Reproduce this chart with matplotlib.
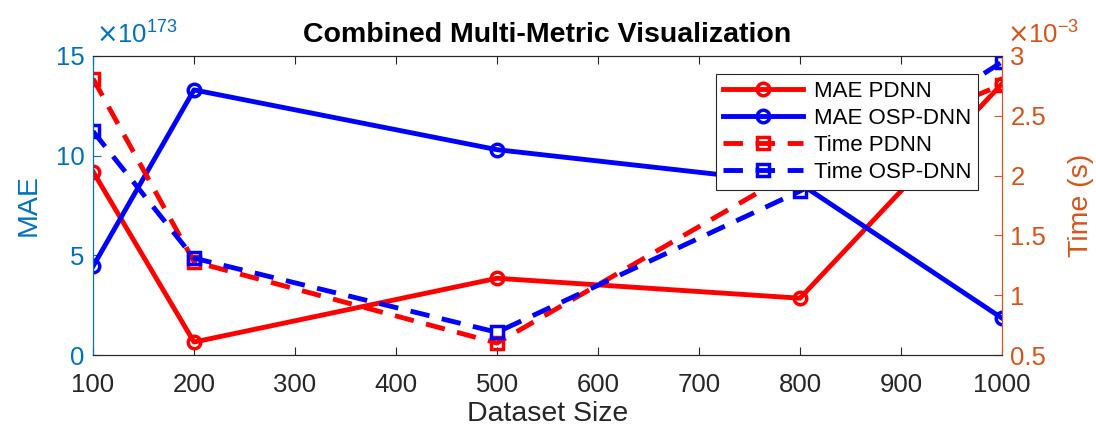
import matplotlib
matplotlib.use("Agg")
import matplotlib.pyplot as plt
from matplotlib.ticker import FuncFormatter, MultipleLocator

plt.rcParams["font.family"] = ["Liberation Sans", "DejaVu Sans"]
plt.rcParams["axes.unicode_minus"] = False

# dataset sizes and measured metrics
sizes = [100, 200, 500, 800, 1000]
mae_pdnn = [9.2e173, 0.65e173, 3.85e173, 2.85e173, 13.6e173]
mae_osp = [4.45e173, 13.3e173, 10.3e173, 8.6e173, 1.85e173]
time_pdnn = [2.81e-3, 1.28e-3, 0.60e-3, 2.06e-3, 2.76e-3]
time_osp = [2.37e-3, 1.31e-3, 0.69e-3, 1.87e-3, 2.95e-3]

mae_scale = 1e173
time_scale = 1e-3

LEFT_C = "#0072BD"
RIGHT_C = "#D95319"
AX_C = "#262626"
FS = 18.5
LFS = 20.5

fig = plt.figure(figsize=(10.96, 4.34), dpi=100)
ax = fig.add_axes([0.0849, 0.182, 0.8293, 0.689])
ax2 = ax.twinx()

lw, ms, mew = 3.5, 9, 2.5
dash = (4.0, 2.6)

h1, = ax.plot(sizes, mae_pdnn, "-o", color="red", lw=lw, ms=ms, mew=mew,
              mfc="none", label="MAE PDNN")
h2, = ax.plot(sizes, mae_osp, "-o", color="blue", lw=lw, ms=ms, mew=mew,
              mfc="none", label="MAE OSP-DNN")
h3, = ax2.plot(sizes, time_pdnn, "--s", color="red", lw=lw, ms=ms, mew=mew,
               mfc="none", dashes=dash, label="Time PDNN")
h4, = ax2.plot(sizes, time_osp, "--s", color="blue", lw=lw, ms=ms, mew=mew,
               mfc="none", dashes=dash, label="Time OSP-DNN")

ax.set_xlim(100, 1000)
ax.set_xticks(range(100, 1001, 100))
ax.set_ylim(0, 15 * mae_scale)
ax.yaxis.set_major_locator(MultipleLocator(5 * mae_scale))
ax.yaxis.set_major_formatter(FuncFormatter(lambda v, p: f"{v / mae_scale:g}"))
ax2.set_ylim(0.5 * time_scale, 3 * time_scale)
ax2.yaxis.set_major_locator(MultipleLocator(0.5 * time_scale))
ax2.yaxis.set_major_formatter(FuncFormatter(lambda v, p: f"{v / time_scale:g}"))

for a in (ax, ax2):
    for s in a.spines.values():
        s.set_color(AX_C)
        s.set_linewidth(0.8)
    a.spines["left"].set_color(LEFT_C)
    a.spines["right"].set_color(RIGHT_C)

ax.tick_params(axis="x", direction="in", top=True, colors=AX_C,
               labelsize=FS, length=6, pad=13)
ax.tick_params(axis="y", direction="in", colors=LEFT_C, labelsize=FS,
               length=6, pad=6)
ax2.tick_params(axis="y", direction="in", colors=RIGHT_C, labelsize=FS,
                length=6, pad=6)

ax.set_xlabel("Dataset Size", fontsize=LFS, color=AX_C, labelpad=3)
ax.set_ylabel("MAE", fontsize=LFS, color=LEFT_C, labelpad=10)
ax2.set_ylabel("Time (s)", fontsize=LFS, color=RIGHT_C, labelpad=16)
ax.set_title("Combined Multi-Metric Visualization", fontsize=LFS,
             fontweight="bold", pad=10)

# exponent labels above each y axis
ax.text(0.003, 1.025, r"$\times\mathdefault{10^{173}}$", transform=ax.transAxes,
        color=LEFT_C, fontsize=FS, ha="left", va="bottom")
ax2.text(1.005, 1.025, r"$\times\mathdefault{10^{-3}}$", transform=ax2.transAxes,
         color=RIGHT_C, fontsize=FS, ha="left", va="bottom")

leg = ax2.legend(handles=[h1, h2, h3, h4], loc="upper right",
                 bbox_to_anchor=(0.974, 0.94), borderaxespad=0,
                 fontsize=16, frameon=True, fancybox=False, framealpha=1,
                 handlelength=3.6, handletextpad=0.5, labelspacing=0.28,
                 borderpad=0.3)
leg.get_frame().set_edgecolor(AX_C)
leg.get_frame().set_linewidth(0.8)

fig.savefig("out.png", dpi=100)
